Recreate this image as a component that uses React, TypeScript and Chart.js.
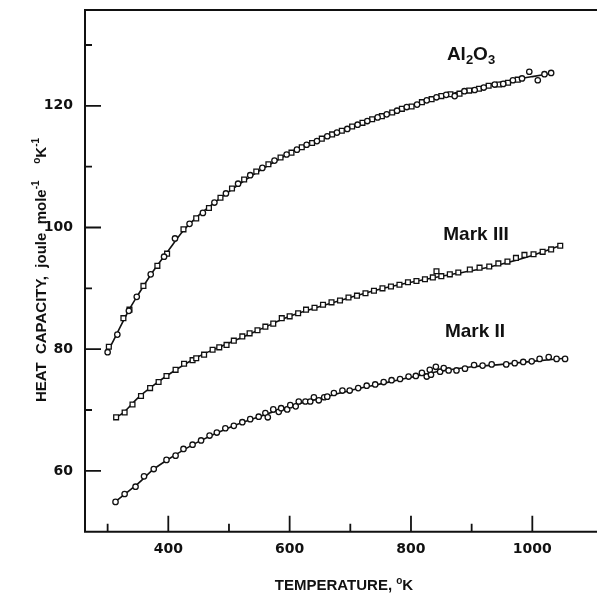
import React, { useEffect, useRef } from 'react';
import { Chart, registerables } from 'chart.js';
Chart.register(...registerables);

// ---- axis ranges & ticks ----
const X_MIN = 262.7;
const X_MAX = 1106.6;
const Y_MIN = 50;
const Y_MAX = 135.75;
const xTickValues = [300, 400, 500, 600, 700, 800, 900, 1000];
const xLabelled = [400, 600, 800, 1000];
const yTickValues = [60, 70, 80, 90, 100, 110, 120, 130];
const yLabelled = [60, 80, 100, 120];

// ---- Al2O3 : circles ----
const alCircT = [300, 316, 335, 348, 371, 393, 411, 435, 457, 476, 495, 515, 535, 555, 575, 595, 612, 628, 645, 662, 678, 695, 712, 728, 745, 760, 777, 793, 810, 826, 842, 858, 872, 888, 905, 920, 938, 952, 968, 983, 995, 1009, 1020, 1031];
const alCircCp = [79.5, 82.4, 86.3, 88.6, 92.3, 95.2, 98.2, 100.6, 102.4, 104.1, 105.6, 107.2, 108.6, 109.8, 111.0, 112.0, 112.8, 113.6, 114.2, 115.0, 115.6, 116.2, 116.9, 117.5, 118.1, 118.6, 119.2, 119.8, 120.2, 120.9, 121.4, 121.8, 121.6, 122.4, 122.6, 123.0, 123.5, 123.6, 124.2, 124.5, 125.6, 124.2, 125.2, 125.4];
// ---- Al2O3 : squares ----
const alSqT = [302, 326, 336, 359, 382, 398, 425, 446, 467, 486, 505, 525, 545, 565, 585, 603, 620, 637, 653, 670, 686, 703, 720, 736, 752, 769, 785, 801, 818, 834, 850, 865, 880, 896, 912, 928, 945, 960, 976];
const alSqCp = [80.4, 85.1, 86.5, 90.4, 93.7, 95.7, 99.7, 101.5, 103.2, 104.9, 106.4, 107.9, 109.2, 110.4, 111.5, 112.3, 113.2, 113.9, 114.6, 115.3, 115.9, 116.6, 117.2, 117.8, 118.3, 118.9, 119.5, 119.9, 120.6, 121.1, 121.6, 121.9, 122.0, 122.5, 122.8, 123.3, 123.5, 123.8, 124.3];
// ---- Al2O3 : fitted curve ----
const alFitT = [300, 310, 320, 335, 350, 375, 400, 425, 450, 475, 500, 550, 600, 650, 700, 750, 800, 850, 900, 950, 1000, 1031];
const alFitCp = [79.6, 81.5, 83.5, 86.4, 88.9, 92.8, 96.2, 99.5, 102.0, 104.0, 105.9, 109.3, 112.2, 114.6, 116.5, 118.3, 120.0, 121.5, 122.8, 123.9, 124.8, 125.3];

// ---- Mark III : squares ----
const m3T = [314, 328, 341, 355, 370, 384, 397, 412, 426, 440, 446, 459, 473, 484, 496, 508, 522, 534, 547, 560, 573, 587, 600, 614, 627, 641, 655, 669, 683, 697, 711, 725, 739, 753, 767, 781, 795, 809, 823, 836, 842, 850, 864, 878, 897, 913, 929, 944, 959, 973, 987, 1002, 1017, 1031, 1046];
const m3Cp = [68.8, 69.6, 70.9, 72.3, 73.6, 74.6, 75.6, 76.6, 77.6, 78.2, 78.5, 79.1, 79.9, 80.3, 80.7, 81.4, 82.1, 82.6, 83.1, 83.7, 84.2, 85.1, 85.4, 85.9, 86.5, 86.8, 87.3, 87.7, 88.0, 88.5, 88.8, 89.2, 89.6, 90.0, 90.3, 90.6, 91.0, 91.2, 91.5, 91.8, 92.8, 92.0, 92.3, 92.6, 93.1, 93.4, 93.6, 94.1, 94.4, 95.0, 95.5, 95.6, 96.0, 96.4, 97.0];
const m3FitT = [310, 325, 350, 375, 400, 450, 500, 550, 600, 650, 700, 750, 800, 850, 900, 950, 1000, 1046];
const m3FitCp = [68.6, 69.5, 72.0, 74.0, 75.8, 78.8, 81.0, 83.2, 85.4, 87.0, 88.5, 89.9, 91.0, 92.0, 92.9, 94.0, 95.4, 97.0];

// ---- Mark II : circles ----
const m2T = [313, 328, 346, 360, 376, 397, 412, 425, 440, 454, 468, 480, 494, 508, 522, 535, 549, 560, 564, 573, 582, 586, 596, 601, 610, 615, 626, 634, 640, 648, 657, 662, 673, 687, 699, 713, 727, 741, 755, 768, 782, 796, 808, 818, 826, 831, 833, 841, 848, 854, 862, 875, 889, 904, 918, 933, 957, 971, 985, 999, 1012, 1027, 1040, 1054];
const m2Cp = [54.9, 56.2, 57.4, 59.1, 60.3, 61.8, 62.5, 63.6, 64.3, 65.0, 65.8, 66.3, 67.0, 67.4, 68.0, 68.5, 68.9, 69.5, 68.8, 70.1, 69.7, 70.3, 70.1, 70.8, 70.6, 71.4, 71.4, 71.4, 72.1, 71.6, 72.1, 72.2, 72.8, 73.2, 73.2, 73.6, 74.0, 74.2, 74.6, 74.9, 75.1, 75.5, 75.6, 76.1, 75.5, 76.6, 75.8, 77.1, 76.3, 76.9, 76.5, 76.5, 76.8, 77.4, 77.3, 77.5, 77.5, 77.7, 77.9, 78.0, 78.4, 78.7, 78.4, 78.4];
const m2FitT = [312, 330, 350, 375, 400, 450, 500, 550, 600, 650, 700, 750, 800, 850, 900, 950, 1000, 1054];
const m2FitCp = [54.9, 56.3, 57.9, 60.2, 61.9, 64.8, 67.1, 68.9, 70.6, 71.9, 73.2, 74.3, 75.4, 76.4, 77.1, 77.5, 78.0, 78.5];

const pts = (xs: number[], ys: number[]) => xs.map((x, i) => ({ x, y: ys[i] }));

const TICK_FONT = 'DejaVu Sans';
const TITLE_FONT = 'Liberation Sans';

type Seg = { text: string; size: number; dy: number };

function drawRich(ctx: CanvasRenderingContext2D, segs: Seg[], x: number, y: number) {
  let total = 0;
  const widths: number[] = [];
  for (const s of segs) {
    ctx.font = `bold ${s.size}px "${TITLE_FONT}"`;
    const w = ctx.measureText(s.text).width;
    widths.push(w);
    total += w;
  }
  let cx = x - total / 2;
  segs.forEach((s, i) => {
    ctx.font = `bold ${s.size}px "${TITLE_FONT}"`;
    ctx.fillText(s.text, cx, y + s.dy);
    cx += widths[i];
  });
}

const decorPlugin = {
  id: 'decor',
  afterDraw(chart: any) {
    const { ctx, chartArea, scales } = chart;
    const xs = scales.x;
    const ys = scales.y;
    const W = chart.width;
    ctx.save();
    ctx.strokeStyle = '#111';
    ctx.fillStyle = '#111';
    ctx.lineWidth = 2;
    ctx.lineCap = 'butt';
    // frame: left, top, bottom (open on the right, running to the page edge)
    ctx.beginPath();
    ctx.moveTo(chartArea.left, chartArea.top);
    ctx.lineTo(chartArea.left, chartArea.bottom);
    ctx.lineTo(W, chartArea.bottom);
    ctx.moveTo(chartArea.left - 1, chartArea.top);
    ctx.lineTo(W, chartArea.top);
    ctx.stroke();
    // inward ticks
    ctx.lineWidth = 1.8;
    ctx.beginPath();
    for (const v of yTickValues) {
      const py = ys.getPixelForValue(v);
      const len = yLabelled.includes(v) ? 16 : 7;
      ctx.moveTo(chartArea.left, py);
      ctx.lineTo(chartArea.left + len, py);
    }
    for (const v of xTickValues) {
      const px = xs.getPixelForValue(v);
      const len = xLabelled.includes(v) ? 16 : 8;
      ctx.moveTo(px, chartArea.bottom);
      ctx.lineTo(px, chartArea.bottom - len);
    }
    ctx.stroke();

    ctx.textAlign = 'left';
    ctx.textBaseline = 'alphabetic';
    // x title
    drawRich(ctx, [
      { text: 'TEMPERATURE, ', size: 15, dy: 0 },
      { text: 'o', size: 10, dy: -6 },
      { text: 'K', size: 15, dy: 0 },
    ], 344, 590);

    // y title (rotated)
    ctx.save();
    ctx.translate(40, 270);
    ctx.rotate(-Math.PI / 2);
    drawRich(ctx, [
      { text: 'HEAT  CAPACITY,  joule  mole', size: 15, dy: 0 },
      { text: '-1', size: 10, dy: -7 },
      { text: '    ', size: 15, dy: 0 },
      { text: 'o', size: 10, dy: -6 },
      { text: 'K', size: 15, dy: 0 },
      { text: '-1', size: 10, dy: -7 },
    ], 0, 5.5);
    ctx.restore();

    // curve labels
    drawRich(ctx, [
      { text: 'Al', size: 19, dy: 0 },
      { text: '2', size: 13, dy: 4 },
      { text: 'O', size: 19, dy: 0 },
      { text: '3', size: 13, dy: 4 },
    ], 471, 60);
    drawRich(ctx, [{ text: 'Mark III', size: 19, dy: 0 }], 476, 240);
    drawRich(ctx, [{ text: 'Mark II', size: 19, dy: 0 }], 475, 337);
    ctx.restore();
  },
};

export default function App() {
  const ref = useRef<HTMLCanvasElement | null>(null);
  useEffect(() => {
    if (!ref.current) return;
    const lineDs = (xs: number[], ys: number[]) => ({
      type: 'line' as const,
      data: pts(xs, ys),
      borderColor: '#111',
      borderWidth: 1.6,
      pointRadius: 0,
      fill: false,
      cubicInterpolationMode: 'monotone' as const,
      order: 2,
    });
    const markDs = (xs: number[], ys: number[], style: string) => ({
      type: 'scatter' as const,
      data: pts(xs, ys),
      pointStyle: style,
      pointRadius: style === 'rect' ? 3.4 : 2.7,
      pointBorderWidth: 1.3,
      pointBackgroundColor: '#fff',
      pointBorderColor: '#111',
      showLine: false,
      order: 1,
    });
    const chart = new Chart(ref.current, {
      type: 'scatter',
      data: {
        datasets: [
          markDs(alCircT, alCircCp, 'circle'),
          markDs(alSqT, alSqCp, 'rect'),
          markDs(m3T, m3Cp, 'rect'),
          markDs(m2T, m2Cp, 'circle'),
          lineDs(alFitT, alFitCp),
          lineDs(m3FitT, m3FitCp),
          lineDs(m2FitT, m2FitCp),
        ] as any,
      },
      options: {
        animation: false,
        responsive: false,
        maintainAspectRatio: false,
        layout: { autoPadding: false, padding: { top: 10, right: 0, left: 0, bottom: 0 } },
        plugins: { legend: { display: false }, tooltip: { enabled: false } },
        scales: {
          x: {
            type: 'linear',
            min: X_MIN,
            max: X_MAX,
            afterBuildTicks: (s: any) => {
              s.ticks = xTickValues.map((v) => ({ value: v }));
            },
            afterFit: (s: any) => {
              s.height = 61.3;
              s.paddingRight = 0;
              s.paddingLeft = 0;
            },
            grid: { display: false, drawTicks: false },
            border: { display: false },
            ticks: {
              autoSkip: false,
              maxRotation: 0,
              padding: 9,
              color: '#111',
              font: { family: TICK_FONT, size: 14, weight: 'bold' },
              callback: (v: any) => (xLabelled.includes(Number(v)) ? String(v) : ''),
            },
          },
          y: {
            type: 'linear',
            min: Y_MIN,
            max: Y_MAX,
            afterBuildTicks: (s: any) => {
              s.ticks = yTickValues.map((v) => ({ value: v }));
            },
            afterFit: (s: any) => {
              s.width = 85;
              s.paddingTop = 0;
              s.paddingBottom = 0;
            },
            grid: { display: false, drawTicks: false },
            border: { display: false },
            ticks: {
              autoSkip: false,
              padding: 12,
              color: '#111',
              font: { family: TICK_FONT, size: 14, weight: 'bold' },
              callback: (v: any) => (yLabelled.includes(Number(v)) ? String(v) : ''),
            },
          },
        },
      } as any,
      plugins: [decorPlugin],
    });
    return () => chart.destroy();
  }, []);
  return (
    <div style={{ position: 'absolute', left: 0, top: 0, width: 597, height: 593, background: '#fff' }}>
      <canvas ref={ref} width={597} height={593} style={{ width: 597, height: 593, display: 'block' }} />
    </div>
  );
}
